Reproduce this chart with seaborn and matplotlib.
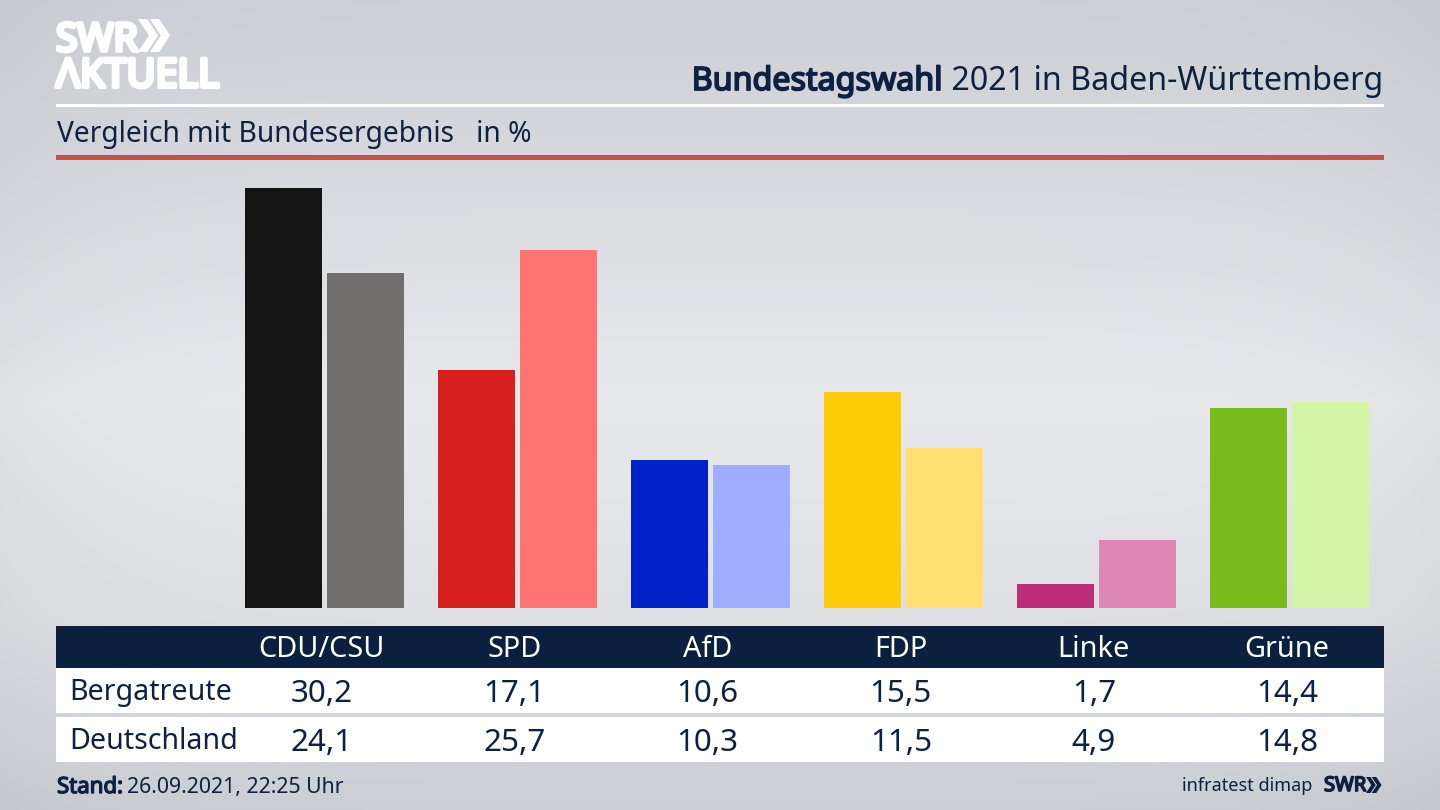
# Bundestagswahl 2021, Bergatreute vs Deutschland
import numpy as np
import pandas as pd
import matplotlib.pyplot as plt
import matplotlib.patheffects as pe
from matplotlib.patches import Rectangle, Polygon
import seaborn as sb

parties = ['CDU/CSU', 'SPD', 'AfD', 'FDP', 'Linke', 'Grüne']
bergatreute = [30.2, 17.1, 10.6, 15.5, 1.7, 14.4]
deutschland = [24.1, 25.7, 10.3, 11.5, 4.9, 14.8]
regions = ['Bergatreute', 'Deutschland']
colors_bw = ['#141414', '#d71f1d', '#0021c7', '#ffcc0a', '#bc2e79', '#78bc1b']
colors_de = ['#72706e', '#ff7472', '#9fadff', '#ffe070', '#df88b8', '#d2f5a6']

NAVY = '#0d2140'
FONT = 'Noto Sans'
W, H = 1440, 810

sb.set_theme(style='white')
plt.rcParams['font.family'] = [FONT, 'DejaVu Sans']

fig = plt.figure(figsize=(14.4, 8.1), dpi=100)

# background axes in pixel coordinates
bg = fig.add_axes([0, 0, 1, 1])
bg.set_xlim(0, W)
bg.set_ylim(H, 0)
bg.axis('off')
ys = np.array([0, 150, 400, 620, 810])
greys = np.array([[205, 208, 214], [214, 216, 221], [232, 233, 237], [222, 224, 228], [203, 206, 212]])
grad = np.stack([np.interp(np.arange(H), ys, greys[:, i]) for i in range(3)], axis=1) / 255
edge = 1 - 0.03 * (np.abs(np.arange(W) - W / 2) / (W / 2)) ** 6  # edges a bit darker
bg.imshow(grad[:, None, :] * edge[None, :, None], extent=[0, W, H, 0], aspect='auto', zorder=0)

# no bold cut of the font here, so thicken with a stroke
def heavy(txt, width):
    txt.set_path_effects([pe.withStroke(linewidth=width, foreground=txt.get_color())])
    return txt

# rules
bg.add_patch(Rectangle((56, 104), 1328, 3, color='white', lw=0))
bg.add_patch(Rectangle((56, 155), 1328, 5, color='#c9533d', lw=0))

# logo
heavy(bg.text(56, 51, 'SWR', color='white', fontsize=28, va='baseline'), 3)
heavy(bg.text(56, 87, 'ΛKTUELL', color='white', fontsize=28.5, va='baseline'), 3)
def chevrons(x, y, h, color):
    w = h * 0.33
    t = h * 0.28
    for dx in (0, h * 0.36):
        bg.add_patch(Polygon([(x + dx, y), (x + dx + t, y), (x + dx + t + w, y + h / 2),
                              (x + dx + t, y + h), (x + dx, y + h), (x + dx + w, y + h / 2)],
                             color=color, lw=0))
chevrons(138, 19, 33, 'white')

# heading
t = bg.text(1383, 90, ' 2021 in Baden-Württemberg', color=NAVY, fontsize=23.2, ha='right', va='baseline')
fig.canvas.draw()
x0 = bg.transData.inverted().transform(t.get_window_extent().p0)[0]
heavy(bg.text(x0, 90, 'Bundestagswahl', color=NAVY, fontsize=23.2, ha='right', va='baseline'), 1.3)
bg.text(57, 142, 'Vergleich mit Bundesergebnis   in %', color=NAVY, fontsize=20.3, va='baseline')

# bars
ax = fig.add_axes([228.3 / W, 1 - 608 / H, 1158 / W, (608 - 187.7) / H])
df = pd.DataFrame({'party': parties * 2,
                   'region': [regions[0]] * 6 + [regions[1]] * 6,
                   'value': bergatreute + deutschland})
sb.barplot(data=df, x='party', y='value', hue='region', order=parties, hue_order=regions,
           width=0.85, gap=0.06, saturation=1, legend=False, ax=ax)
for patch, c in zip(ax.patches, colors_bw + colors_de):
    patch.set_facecolor(c)
    patch.set_edgecolor('none')
ax.set_xlim(-0.5, 5.5)
ax.set_ylim(0, 30.2)
ax.axis('off')
ax.patch.set_alpha(0)

# table under the bars
bg.add_patch(Rectangle((56, 626), 1328, 42, color='#0b1f3f', lw=0))
bg.add_patch(Rectangle((56, 668), 1328, 45, color='white', lw=0))
bg.add_patch(Rectangle((56, 717), 1328, 45, color='white', lw=0))
for i, p in enumerate(parties):
    cx = 321.5 + 193.1 * i
    bg.text(cx, 657, p, color='white', fontsize=20.8, ha='center', va='baseline')
    bg.text(cx, 702, str(bergatreute[i]).replace('.', ','), color=NAVY, fontsize=22.6, ha='center', va='baseline')
    bg.text(cx, 751, str(deutschland[i]).replace('.', ','), color=NAVY, fontsize=22.6, ha='center', va='baseline')
bg.text(69.5, 700, regions[0], color=NAVY, fontsize=20.6, va='baseline')
bg.text(69.5, 749, regions[1], color=NAVY, fontsize=20.6, va='baseline')

# footer
heavy(bg.text(57, 793, 'Stand:', color=NAVY, fontsize=16, va='baseline'), 1.0)
bg.text(127, 793, '26.09.2021, 22:25 Uhr', color=NAVY, fontsize=15.3, va='baseline')
bg.text(1312, 791, 'infratest dimap', color=NAVY, fontsize=13, ha='right', va='baseline')
heavy(bg.text(1324, 791, 'SWR', color=NAVY, fontsize=14.5, va='baseline'), 1.2)
chevrons(1366, 777, 16, NAVY)

fig.savefig('out.png', dpi=100)
